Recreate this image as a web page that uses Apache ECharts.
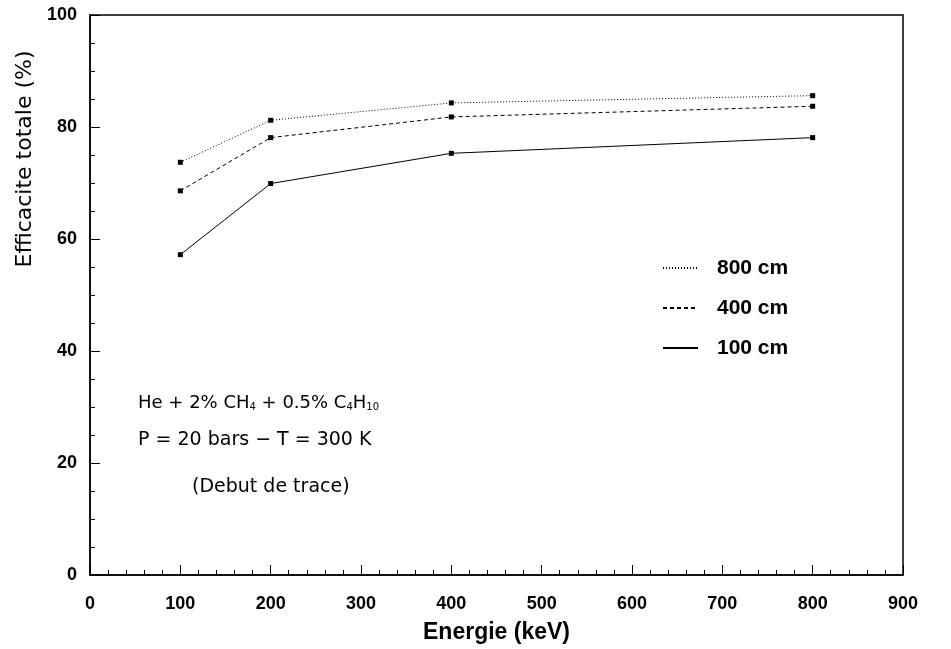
<!DOCTYPE html>
<html>
<head>
<meta charset="utf-8">
<script src="https://cdn.jsdelivr.net/npm/echarts@6/dist/echarts.min.js"></script>
<style>
  html, body { margin: 0; padding: 0; background: #fff; }
  #chart { width: 951px; height: 649px; }
</style>
</head>
<body>
<div id="chart"></div>
<script>
// energies (keV)
var energies = [100, 200, 400, 800];
// total efficiency (%) for each length
var eff800 = [73.7, 81.2, 84.3, 85.6];
var eff400 = [68.6, 78.1, 81.8, 83.7];
var eff100 = [57.2, 69.9, 75.3, 78.1];
var seriesNames = ['800 cm', '400 cm', '100 cm'];

function pairs(vals) {
  var out = [];
  for (var i = 0; i < energies.length; i++) {
    out.push([energies[i], vals[i]]);
  }
  return out;
}

var chart = echarts.init(document.getElementById('chart'));

var tickFont = { fontFamily: 'Liberation Sans', fontWeight: 'bold', fontSize: 18, color: '#000' };

function makeSeries(name, vals, lineType) {
  return {
    name: name,
    type: 'line',
    data: pairs(vals),
    symbol: 'rect',
    symbolSize: 5,
    itemStyle: { color: '#000' },
    lineStyle: { color: '#000', width: 1, type: lineType },
    animation: false
  };
}

chart.setOption({
  animation: false,
  grid: {
    left: 90, right: 48, top: 15, bottom: 73,
    show: true, borderColor: '#000', borderWidth: 1.5
  },
  legend: {
    orient: 'vertical',
    left: 657, top: 252,
    itemWidth: 35, itemHeight: 14, itemGap: 18,
    data: seriesNames,
    itemStyle: { opacity: 0 },
    textStyle: {
      fontFamily: 'Liberation Sans', fontWeight: 'bold', fontSize: 21, lineHeight: 22,
      color: '#000', padding: [0, 0, 0, 14]
    }
  },
  xAxis: {
    type: 'value',
    min: 0, max: 900, interval: 100,
    name: 'Energie (keV)',
    nameLocation: 'middle',
    nameGap: 46,
    nameTextStyle: { fontFamily: 'Liberation Sans', fontWeight: 'bold', fontSize: 23, color: '#000' },
    axisLine: { show: true, lineStyle: { color: '#000', width: 1.5 } },
    axisTick: { show: true, inside: true, length: 10, lineStyle: { color: '#000' } },
    minorTick: { show: true, splitNumber: 5, length: 5, lineStyle: { color: '#000' } },
    axisLabel: Object.assign({ margin: 20 }, tickFont),
    splitLine: { show: false }
  },
  yAxis: {
    type: 'value',
    min: 0, max: 100, interval: 20,
    axisLine: { show: true, lineStyle: { color: '#000', width: 1.5 } },
    axisTick: { show: true, inside: true, length: 10, lineStyle: { color: '#000' } },
    minorTick: { show: true, splitNumber: 4, length: 5, lineStyle: { color: '#000' } },
    axisLabel: Object.assign({ margin: 13 }, tickFont),
    splitLine: { show: false }
  },
  graphic: [
    {
      type: 'text', x: 25, y: 159, rotation: Math.PI / 2,
      style: {
        text: 'Efficacite totale (%)',
        font: '22px "DejaVu Sans"', fill: '#000',
        align: 'center', verticalAlign: 'middle'
      }
    },
    {
      type: 'text', x: 138, y: 403,
      style: {
        text: 'He + 2% CH{s|4} + 0.5% C{s|4}H{s|10}',
        font: '18px "DejaVu Sans"', fill: '#000', verticalAlign: 'middle',
        rich: { s: { fontSize: 10, fontFamily: 'DejaVu Sans', padding: [8, 0, 0, 0] } }
      }
    },
    {
      type: 'text', x: 138, y: 440,
      style: {
        text: 'P = 20 bars \u2212 T = 300 K',
        font: '19px "DejaVu Sans"', fill: '#000', verticalAlign: 'middle'
      }
    },
    {
      type: 'text', x: 192, y: 487,
      style: {
        text: '(Debut de trace)',
        font: '19px "DejaVu Sans"', fill: '#000', verticalAlign: 'middle'
      }
    }
  ],
  series: [
    makeSeries(seriesNames[0], eff800, [1, 2]),
    makeSeries(seriesNames[1], eff400, [4, 3]),
    makeSeries(seriesNames[2], eff100, 'solid')
  ]
});
</script>
</body>
</html>
